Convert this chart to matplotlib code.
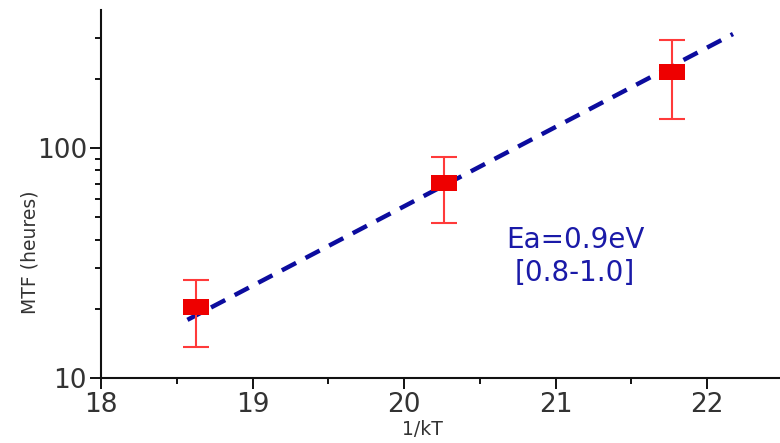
import numpy as np
import matplotlib.pyplot as plt
from matplotlib.ticker import FixedLocator, NullFormatter

# mesures
inv_kT = [18.63, 20.26, 21.77]
mtf = [20.4, 70.5, 215.0]
err_low = [13.6, 47.2, 134.0]
err_high = [26.7, 91.4, 295.0]

# droite d'ajustement (extremites)
fit_x = [18.57, 22.17]
fit_y = [17.9, 313.0]

x_ticks = [18, 19, 20, 21, 22]
y_ticks = [10, 100]

fig = plt.figure(figsize=(7.8, 4.43), dpi=100)
ax = fig.add_axes([0.1295, 0.1467, 0.8705, 0.8318])

ax.plot(fit_x, fit_y, ls=(0, (3.6, 2.4)), color='#0c0c9e', lw=3.2, zorder=2)

yerr = [np.array(mtf) - np.array(err_low), np.array(err_high) - np.array(mtf)]
rect = [(-1, -0.59), (1, -0.59), (1, 0.59), (-1, 0.59), (-1, -0.59)]
ax.errorbar(inv_kT, mtf, yerr=yerr, fmt='none', ecolor='#ff3a3a', elinewidth=1.5,
            capsize=9.7, capthick=1.5, zorder=3)
ax.plot(inv_kT, mtf, ls='none', marker=rect, markersize=18.5, color='#ee0000',
        markeredgewidth=0, zorder=4)

ax.set_yscale('log')
ax.set_xlim(18, 22.48)
ax.set_ylim(10, 400)
ax.set_xticks(x_ticks)
ax.xaxis.set_minor_locator(FixedLocator([18.5, 19.5, 20.5, 21.5]))
ax.yaxis.set_major_locator(FixedLocator(y_ticks))
ax.yaxis.set_minor_locator(FixedLocator([20, 30, 40, 50, 60, 70, 80, 90, 200, 300]))
ax.yaxis.set_minor_formatter(NullFormatter())
ax.set_yticklabels(['10', '100'])

for s in ['top', 'right']:
    ax.spines[s].set_visible(False)
for s in ['left', 'bottom']:
    ax.spines[s].set_linewidth(1.5)
    ax.spines[s].set_color('#111111')

ax.tick_params(which='major', length=8, width=1.3, labelsize=19, labelcolor='#333333', pad=2)
ax.tick_params(which='minor', length=4, width=1.3)

ax.set_xlabel('1/kT', fontsize=13.5, color='#333333')
ax.xaxis.set_label_coords(0.474, -0.115)
ax.set_ylabel('MTF (heures)', fontsize=13.5, color='#333333')
ax.yaxis.set_label_coords(-0.09, 0.34)

ax.text(0.698, 0.33, 'Ea=0.9eV\n[0.8-1.0]', transform=ax.transAxes, ha='center', va='center',
        fontsize=20, color='#1a1aa8', linespacing=1.2)

fig.savefig('out.png', dpi=100)
